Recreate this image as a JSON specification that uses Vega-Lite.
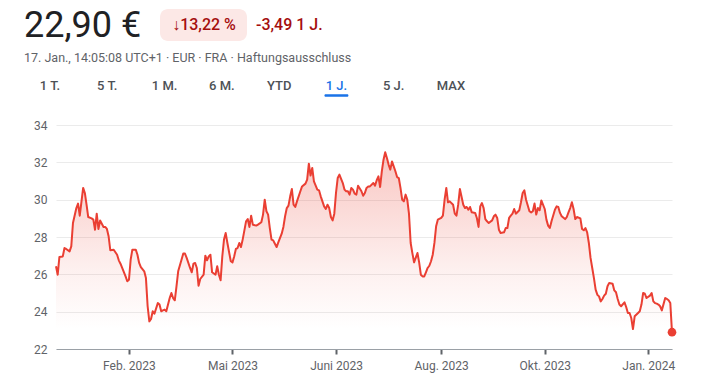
{
  "$schema": "https://vega.github.io/schema/vega-lite/v6.json",
  "width": 616,
  "height": 224,
  "autosize": {"type": "none"},
  "padding": {"left": 56, "top": 125, "right": 29, "bottom": 40},
  "background": "white",
  "config": {"font": "Roboto", "view": {"stroke": null}},
  "datasets": {
    "prices": [
      {"date":"2023-01-17","price":26.43},{"date":"2023-01-18","price":25.98},{"date":"2023-01-19","price":26.93},{"date":"2023-01-21","price":26.96},{"date":"2023-01-22","price":27.41},{"date":"2023-01-23","price":27.36},{"date":"2023-01-25","price":27.23},{"date":"2023-01-26","price":27.50},{"date":"2023-01-27","price":28.75},{"date":"2023-01-29","price":29.55},{"date":"2023-01-30","price":29.79},{"date":"2023-01-31","price":29.14},
      {"date":"2023-02-02","price":30.63},{"date":"2023-02-03","price":30.36},{"date":"2023-02-04","price":29.73},{"date":"2023-02-05","price":29.07},{"date":"2023-02-07","price":29.00},{"date":"2023-02-08","price":28.93},{"date":"2023-02-09","price":28.39},{"date":"2023-02-10","price":29.25},{"date":"2023-02-11","price":28.43},{"date":"2023-02-12","price":28.88},{"date":"2023-02-14","price":28.54},{"date":"2023-02-15","price":28.54},{"date":"2023-02-16","price":28.43},{"date":"2023-02-17","price":28.04},{"date":"2023-02-18","price":27.29},{"date":"2023-02-20","price":27.32},{"date":"2023-02-22","price":27.05},{"date":"2023-02-23","price":26.75},{"date":"2023-02-24","price":26.57},{"date":"2023-02-25","price":26.34},{"date":"2023-02-27","price":25.89},{"date":"2023-02-28","price":25.63},
      {"date":"2023-03-01","price":25.71},{"date":"2023-03-02","price":26.79},{"date":"2023-03-03","price":27.32},{"date":"2023-03-05","price":27.32},{"date":"2023-03-06","price":27.05},{"date":"2023-03-07","price":26.61},{"date":"2023-03-08","price":26.39},{"date":"2023-03-10","price":26.16},{"date":"2023-03-11","price":25.80},{"date":"2023-03-12","price":24.29},{"date":"2023-03-13","price":23.48},{"date":"2023-03-14","price":23.61},{"date":"2023-03-15","price":24.02},{"date":"2023-03-16","price":23.89},{"date":"2023-03-18","price":24.46},{"date":"2023-03-19","price":24.38},{"date":"2023-03-20","price":24.02},{"date":"2023-03-21","price":24.07},{"date":"2023-03-22","price":24.11},{"date":"2023-03-23","price":24.02},{"date":"2023-03-25","price":24.73},{"date":"2023-03-26","price":25.00},{"date":"2023-03-27","price":24.73},{"date":"2023-03-28","price":24.61},{"date":"2023-03-29","price":25.36},{"date":"2023-03-30","price":26.16},
      {"date":"2023-04-01","price":26.79},{"date":"2023-04-02","price":27.11},{"date":"2023-04-03","price":27.11},{"date":"2023-04-04","price":26.88},{"date":"2023-04-06","price":26.34},{"date":"2023-04-07","price":26.11},{"date":"2023-04-08","price":26.57},{"date":"2023-04-09","price":26.61},{"date":"2023-04-10","price":26.34},{"date":"2023-04-11","price":25.39},{"date":"2023-04-12","price":25.75},{"date":"2023-04-14","price":25.98},{"date":"2023-04-15","price":27.00},{"date":"2023-04-16","price":26.75},{"date":"2023-04-17","price":26.96},{"date":"2023-04-18","price":27.05},{"date":"2023-04-19","price":26.11},{"date":"2023-04-21","price":25.98},{"date":"2023-04-22","price":26.43},{"date":"2023-04-23","price":25.98},{"date":"2023-04-24","price":25.68},{"date":"2023-04-25","price":26.96},{"date":"2023-04-26","price":27.86},{"date":"2023-04-27","price":28.21},{"date":"2023-04-28","price":27.68},{"date":"2023-04-30","price":26.70},
      {"date":"2023-05-01","price":26.64},{"date":"2023-05-02","price":26.96},{"date":"2023-05-03","price":27.36},{"date":"2023-05-04","price":27.41},{"date":"2023-05-05","price":27.68},{"date":"2023-05-06","price":27.46},{"date":"2023-05-07","price":27.86},{"date":"2023-05-09","price":28.84},{"date":"2023-05-10","price":28.96},{"date":"2023-05-11","price":28.54},{"date":"2023-05-12","price":29.14},{"date":"2023-05-13","price":28.66},{"date":"2023-05-15","price":28.61},{"date":"2023-05-16","price":28.66},{"date":"2023-05-18","price":28.79},{"date":"2023-05-19","price":29.20},{"date":"2023-05-20","price":30.00},{"date":"2023-05-21","price":29.38},{"date":"2023-05-22","price":29.20},{"date":"2023-05-23","price":28.48},{"date":"2023-05-24","price":27.86},{"date":"2023-05-25","price":27.82},{"date":"2023-05-26","price":27.64},{"date":"2023-05-27","price":27.46},{"date":"2023-05-28","price":27.71},{"date":"2023-05-30","price":28.18},{"date":"2023-05-31","price":28.54},
      {"date":"2023-06-01","price":29.11},{"date":"2023-06-02","price":29.55},{"date":"2023-06-03","price":29.68},{"date":"2023-06-04","price":30.18},{"date":"2023-06-05","price":30.57},{"date":"2023-06-06","price":29.73},{"date":"2023-06-07","price":29.61},{"date":"2023-06-08","price":29.91},{"date":"2023-06-10","price":30.45},{"date":"2023-06-11","price":30.71},{"date":"2023-06-13","price":30.86},{"date":"2023-06-14","price":31.07},{"date":"2023-06-15","price":31.93},{"date":"2023-06-16","price":31.29},{"date":"2023-06-17","price":31.70},{"date":"2023-06-18","price":30.98},{"date":"2023-06-20","price":30.54},{"date":"2023-06-21","price":30.50},{"date":"2023-06-22","price":30.18},{"date":"2023-06-24","price":29.64},{"date":"2023-06-25","price":29.50},{"date":"2023-06-26","price":29.73},{"date":"2023-06-27","price":29.55},{"date":"2023-06-28","price":29.07},{"date":"2023-06-29","price":28.89},{"date":"2023-06-30","price":29.25},
      {"date":"2023-07-01","price":30.36},{"date":"2023-07-02","price":31.16},{"date":"2023-07-03","price":31.34},{"date":"2023-07-05","price":30.89},{"date":"2023-07-06","price":30.54},{"date":"2023-07-07","price":30.45},{"date":"2023-07-08","price":30.45},{"date":"2023-07-09","price":30.27},{"date":"2023-07-10","price":30.63},{"date":"2023-07-11","price":30.54},{"date":"2023-07-12","price":30.32},{"date":"2023-07-13","price":30.27},{"date":"2023-07-14","price":30.75},{"date":"2023-07-16","price":30.45},{"date":"2023-07-17","price":30.21},{"date":"2023-07-18","price":30.36},{"date":"2023-07-19","price":30.63},{"date":"2023-07-20","price":30.71},{"date":"2023-07-21","price":30.71},{"date":"2023-07-23","price":30.89},{"date":"2023-07-24","price":30.75},{"date":"2023-07-25","price":31.04},{"date":"2023-07-26","price":31.25},{"date":"2023-07-27","price":30.68},{"date":"2023-07-28","price":31.52},{"date":"2023-07-29","price":32.14},{"date":"2023-07-30","price":32.54},{"date":"2023-07-31","price":32.23},
      {"date":"2023-08-01","price":31.88},{"date":"2023-08-02","price":31.61},{"date":"2023-08-03","price":32.05},{"date":"2023-08-05","price":31.52},{"date":"2023-08-06","price":31.21},{"date":"2023-08-07","price":31.16},{"date":"2023-08-08","price":30.63},{"date":"2023-08-09","price":30.00},{"date":"2023-08-10","price":29.91},{"date":"2023-08-11","price":30.27},{"date":"2023-08-12","price":30.00},{"date":"2023-08-13","price":29.25},{"date":"2023-08-14","price":27.68},{"date":"2023-08-15","price":27.14},{"date":"2023-08-16","price":26.64},{"date":"2023-08-18","price":27.14},{"date":"2023-08-19","price":26.64},{"date":"2023-08-20","price":25.98},{"date":"2023-08-21","price":25.89},{"date":"2023-08-22","price":25.89},{"date":"2023-08-23","price":26.11},{"date":"2023-08-24","price":26.34},{"date":"2023-08-25","price":26.46},{"date":"2023-08-26","price":26.70},{"date":"2023-08-27","price":27.05},{"date":"2023-08-28","price":27.68},{"date":"2023-08-29","price":28.57},{"date":"2023-08-30","price":28.93},
      {"date":"2023-09-01","price":29.02},{"date":"2023-09-02","price":29.14},{"date":"2023-09-03","price":30.00},{"date":"2023-09-04","price":30.63},{"date":"2023-09-05","price":29.86},{"date":"2023-09-06","price":29.91},{"date":"2023-09-08","price":29.73},{"date":"2023-09-09","price":29.25},{"date":"2023-09-10","price":29.14},{"date":"2023-09-11","price":29.73},{"date":"2023-09-12","price":30.57},{"date":"2023-09-14","price":29.73},{"date":"2023-09-15","price":29.55},{"date":"2023-09-16","price":29.61},{"date":"2023-09-17","price":29.46},{"date":"2023-09-18","price":29.61},{"date":"2023-09-19","price":29.32},{"date":"2023-09-21","price":29.29},{"date":"2023-09-22","price":29.02},{"date":"2023-09-23","price":28.54},{"date":"2023-09-24","price":29.64},{"date":"2023-09-25","price":29.82},{"date":"2023-09-26","price":29.55},{"date":"2023-09-27","price":28.96},{"date":"2023-09-28","price":28.84},{"date":"2023-09-29","price":28.75},
      {"date":"2023-10-01","price":28.89},{"date":"2023-10-02","price":29.11},{"date":"2023-10-03","price":29.20},{"date":"2023-10-04","price":29.02},{"date":"2023-10-05","price":28.39},{"date":"2023-10-06","price":28.21},{"date":"2023-10-08","price":28.25},{"date":"2023-10-09","price":28.48},{"date":"2023-10-10","price":28.48},{"date":"2023-10-11","price":29.02},{"date":"2023-10-12","price":29.14},{"date":"2023-10-13","price":29.25},{"date":"2023-10-14","price":29.50},{"date":"2023-10-15","price":29.25},{"date":"2023-10-17","price":29.43},{"date":"2023-10-18","price":29.86},{"date":"2023-10-19","price":30.36},{"date":"2023-10-20","price":30.50},{"date":"2023-10-21","price":30.00},{"date":"2023-10-23","price":29.38},{"date":"2023-10-24","price":29.32},{"date":"2023-10-25","price":29.38},{"date":"2023-10-26","price":29.79},{"date":"2023-10-27","price":29.20},{"date":"2023-10-28","price":29.55},{"date":"2023-10-29","price":29.43},{"date":"2023-10-30","price":29.96},
      {"date":"2023-11-01","price":29.50},{"date":"2023-11-02","price":28.93},{"date":"2023-11-03","price":28.61},{"date":"2023-11-04","price":28.48},{"date":"2023-11-05","price":28.84},{"date":"2023-11-07","price":29.46},{"date":"2023-11-08","price":29.64},{"date":"2023-11-09","price":29.61},{"date":"2023-11-10","price":29.29},{"date":"2023-11-11","price":29.11},{"date":"2023-11-13","price":28.96},{"date":"2023-11-14","price":29.07},{"date":"2023-11-15","price":29.32},{"date":"2023-11-16","price":29.55},{"date":"2023-11-17","price":29.86},{"date":"2023-11-18","price":29.50},{"date":"2023-11-19","price":28.96},{"date":"2023-11-20","price":29.07},{"date":"2023-11-22","price":29.00},{"date":"2023-11-23","price":28.43},{"date":"2023-11-24","price":28.36},{"date":"2023-11-25","price":28.48},{"date":"2023-11-26","price":28.25},{"date":"2023-11-27","price":27.68},{"date":"2023-11-28","price":26.88},{"date":"2023-11-29","price":26.34},{"date":"2023-11-30","price":25.80},
      {"date":"2023-12-01","price":25.18},{"date":"2023-12-02","price":24.91},{"date":"2023-12-03","price":24.82},{"date":"2023-12-04","price":24.55},{"date":"2023-12-05","price":24.68},{"date":"2023-12-06","price":24.86},{"date":"2023-12-07","price":24.96},{"date":"2023-12-08","price":25.36},{"date":"2023-12-09","price":25.54},{"date":"2023-12-11","price":25.50},{"date":"2023-12-12","price":25.14},{"date":"2023-12-13","price":25.04},{"date":"2023-12-14","price":24.68},{"date":"2023-12-15","price":24.38},{"date":"2023-12-16","price":24.29},{"date":"2023-12-18","price":24.50},{"date":"2023-12-19","price":24.25},{"date":"2023-12-20","price":23.93},{"date":"2023-12-21","price":23.93},{"date":"2023-12-22","price":23.66},{"date":"2023-12-23","price":23.07},{"date":"2023-12-24","price":23.75},{"date":"2023-12-26","price":23.93},{"date":"2023-12-27","price":24.02},{"date":"2023-12-28","price":24.38},{"date":"2023-12-29","price":25.00},{"date":"2023-12-30","price":24.96},{"date":"2023-12-31","price":24.73},
      {"date":"2024-01-02","price":24.86},{"date":"2024-01-03","price":25.00},{"date":"2024-01-04","price":24.55},{"date":"2024-01-05","price":24.46},{"date":"2024-01-06","price":24.43},{"date":"2024-01-07","price":24.38},{"date":"2024-01-08","price":24.29},{"date":"2024-01-09","price":24.07},{"date":"2024-01-11","price":24.73},{"date":"2024-01-12","price":24.68},{"date":"2024-01-13","price":24.61},{"date":"2024-01-14","price":24.46},{"date":"2024-01-15","price":22.90}
    ],
    "tabs": [
      {"tab":"1 T."},{"tab":"5 T."},{"tab":"1 M."},{"tab":"6 M."},{"tab":"YTD"},{"tab":"1 J."},{"tab":"5 J."},{"tab":"MAX"}
    ]
  },
  "layer": [
    {
      "data": {"name": "prices"},
      "encoding": {
        "x": {
          "field": "date", "type": "temporal",
          "axis": {
            "orient": "bottom",
            "title": null,
            "grid": false,
            "values": [
              {"year": 2023, "month": 3, "date": 1, "utc": true},
              {"year": 2023, "month": 5, "date": 1, "utc": true},
              {"year": 2023, "month": 7, "date": 1, "utc": true},
              {"year": 2023, "month": 9, "date": 1, "utc": true},
              {"year": 2023, "month": 11, "date": 1, "utc": true},
              {"year": 2024, "month": 1, "date": 1, "utc": true}
            ],
            "labelExpr": "utcmonth(datum.value) == 2 ? 'Feb. 2023' : utcmonth(datum.value) == 4 ? 'Mai 2023' : utcmonth(datum.value) == 6 ? 'Juni 2023' : utcmonth(datum.value) == 8 ? 'Aug. 2023' : utcmonth(datum.value) == 10 ? 'Okt. 2023' : 'Jan. 2024'",
            "domainColor": "#9aa0a6",
            "domainWidth": 1,
            "tickColor": "#5f6368",
            "tickSize": 5,
            "tickWidth": 2,
            "labelColor": "#5f6368",
            "labelFontSize": 12,
            "labelPadding": 6,
            "labelFlush": false
          }
        },
        "y": {
          "field": "price", "type": "quantitative",
          "scale": {"domain": [22, 34], "nice": false, "zero": false},
          "axis": {
            "orient": "left",
            "title": null,
            "values": [22, 24, 26, 28, 30, 32, 34],
            "domain": false,
            "ticks": false,
            "tickSize": 0,
            "labelPadding": 9,
            "labelColor": "#5f6368",
            "labelFontSize": 12,
            "gridColor": "#ebebeb",
            "gridWidth": 1
          }
        }
      },
      "layer": [
        {
          "mark": {
            "type": "area",
            "color": {
              "gradient": "linear",
              "x1": 0, "y1": 0, "x2": 0, "y2": 1,
              "stops": [
                {"offset": 0, "color": "rgba(234,67,53,0.30)"},
                {"offset": 0.6, "color": "rgba(234,67,53,0.08)"},
                {"offset": 0.9, "color": "rgba(234,67,53,0)"}
              ]
            }
          },
          "encoding": {"y2": {"datum": 22}}
        },
        {
          "mark": {"type": "line", "color": "#ea3f33", "strokeWidth": 2, "strokeJoin": "round"}
        },
        {
          "transform": [
            {"window": [{"op": "row_number", "as": "rn"}], "sort": [{"field": "date", "order": "descending"}]},
            {"filter": "datum.rn === 1"}
          ],
          "mark": {"type": "circle", "color": "#ea3f33", "opacity": 1, "size": 75}
        }
      ]
    },
    {
      "data": {"name": "tabs"},
      "encoding": {
        "x": {"field": "tab", "type": "nominal", "sort": null, "scale": {"type": "point", "range": [-6, 395], "padding": 0}, "axis": null}
      },
      "layer": [
        {
          "mark": {"type": "text", "fontSize": 13, "fontWeight": 500, "align": "center", "baseline": "alphabetic"},
          "encoding": {
            "y": {"value": -35},
            "text": {"field": "tab"},
            "color": {"condition": {"test": "datum.tab === '1 J.'", "value": "#1a73e8"}, "value": "#4d5156"}
          }
        },
        {
          "transform": [{"filter": "datum.tab === '1 J.'"}],
          "mark": {"type": "tick", "orient": "horizontal", "color": "#1a73e8", "thickness": 2.5, "size": 24, "cornerRadius": 1.5, "opacity": 1},
          "encoding": {"y": {"value": -29.5}}
        }
      ]
    },
    {
      "data": {"values": [{"label": "↓13,22 %"}]},
      "layer": [
        {
          "mark": {"type": "rect", "color": "#fce8e6", "cornerRadius": 8},
          "encoding": {"x": {"value": 104}, "x2": {"value": 191}, "y": {"value": -116}, "y2": {"value": -84}}
        },
        {
          "mark": {"type": "text", "fontSize": 16, "fontWeight": 500, "color": "#a50e0e", "align": "center", "baseline": "alphabetic"},
          "encoding": {"x": {"value": 148}, "y": {"value": -94.7}, "text": {"field": "label"}}
        }
      ]
    },
    {
      "data": {"values": [{"label": "22,90 €"}]},
      "mark": {"type": "text", "fontSize": 36, "color": "#202124", "align": "left", "baseline": "alphabetic"},
      "encoding": {"x": {"value": -32}, "y": {"value": -88.3}, "text": {"field": "label"}}
    },
    {
      "data": {"values": [{"label": "-3,49 1 J."}]},
      "mark": {"type": "text", "fontSize": 16, "fontWeight": 500, "color": "#a50e0e", "align": "left", "baseline": "alphabetic"},
      "encoding": {"x": {"value": 200}, "y": {"value": -94.7}, "text": {"field": "label"}}
    },
    {
      "data": {"values": [{"label": "17. Jan., 14:05:08 UTC+1 · EUR · FRA · Haftungsausschluss"}]},
      "mark": {"type": "text", "fontSize": 12.5, "color": "#5f6368", "align": "left", "baseline": "alphabetic"},
      "encoding": {"x": {"value": -32}, "y": {"value": -63.5}, "text": {"field": "label"}}
    }
  ],
  "resolve": {"scale": {"x": "independent", "y": "independent"}}
}
